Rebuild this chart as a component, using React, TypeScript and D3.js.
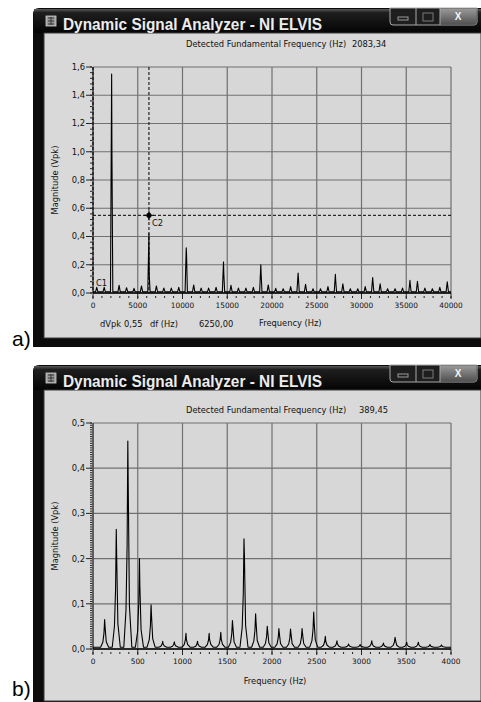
import React from "react";
import * as d3 from "d3";

// ---------- a) square-ish wave, fundamental 2083 Hz, 0..40 kHz ----------
const peakFreqA = [
  417, 1250, 2083, 2917, 3750, 4583, 5417, 6250, 7083, 7917, 8750, 9583,
  10417, 11250, 12083, 12917, 13750, 14583, 15417, 16250, 17083, 17917, 18750, 19583,
  20417, 21250, 22083, 22917, 23750, 24583, 25417, 26250, 27083, 27917, 28750, 29583,
  30417, 31250, 32083, 32917, 33750, 34583, 35417, 36250, 37083, 37917, 38750, 39583,
];
const peakMagA = [
  0.04, 0.04, 1.55, 0.055, 0.037, 0.033, 0.05, 0.42, 0.05, 0.035, 0.035, 0.04,
  0.32, 0.057, 0.035, 0.035, 0.04, 0.22, 0.055, 0.035, 0.035, 0.04, 0.2, 0.057,
  0.033, 0.03, 0.045, 0.142, 0.062, 0.03, 0.03, 0.045, 0.133, 0.065, 0.03, 0.03,
  0.045, 0.11, 0.065, 0.03, 0.03, 0.035, 0.09, 0.083, 0.035, 0.03, 0.04, 0.08,
];
// second level visible on the bigger spikes (0 = none)
const peakSideA = [
  0, 0, 1.0, 0, 0, 0, 0, 0.13, 0, 0, 0, 0,
  0.28, 0, 0, 0, 0, 0.14, 0, 0, 0, 0, 0.14, 0,
  0, 0, 0, 0.11, 0, 0, 0, 0, 0.09, 0, 0, 0,
  0, 0.08, 0, 0, 0, 0, 0.06, 0, 0, 0, 0, 0,
];
const yTicksA = [0, 0.2, 0.4, 0.6, 0.8, 1.0, 1.2, 1.4, 1.6];
const xTicksA = [0, 5000, 10000, 15000, 20000, 25000, 30000, 35000, 40000];
const fundamentalA = "2083,34";
const cursorC2 = [6250, 0.55];
const readoutA = ["dVpk", "0,55", "df (Hz)", "6250,00"];

// ---------- b) voice-like spectrum, fundamental 389 Hz, 0..4 kHz ----------
const peakFreqB = [
  130, 260, 389, 519, 649, 779, 909, 1039, 1168, 1298, 1428, 1558, 1687, 1817, 1947,
  2077, 2207, 2336, 2466, 2596, 2726, 2856, 2985, 3115, 3245, 3375, 3505, 3635, 3765, 3894,
];
const peakMagB = [
  0.065, 0.265, 0.46, 0.2, 0.098, 0.017, 0.016, 0.035, 0.017, 0.035, 0.037, 0.063, 0.244, 0.078, 0.05,
  0.045, 0.044, 0.045, 0.082, 0.028, 0.018, 0.011, 0.01, 0.018, 0.013, 0.026, 0.015, 0.015, 0.01, 0.009,
];
const peakSideB = [
  0.05, 0.205, 0.365, 0.14, 0.075, 0, 0, 0, 0, 0, 0, 0.05, 0.21, 0.06, 0.04,
  0.035, 0.035, 0.035, 0.06, 0, 0, 0, 0, 0, 0, 0.02, 0, 0, 0, 0,
];
const yTicksB = [0, 0.1, 0.2, 0.3, 0.4, 0.5];
const xTicksB = [0, 500, 1000, 1500, 2000, 2500, 3000, 3500, 4000];
const fundamentalB = "389,45";

const FONT = "DejaVu Sans";
const comma = d3.formatLocale({ decimal: ",", thousands: "", grouping: [3], currency: ["", ""] });
const fmt1 = comma.format(".1f");

function Window({ top, bottom, label, labelY }) {
  const left = 33;
  const right = 481;
  const tb = top + 25;
  return (
    <g>
      <path
        d={`M${left},${bottom} L${left},${top + 6} Q${left},${top} ${left + 6},${top} L${right},${top} L${right},${bottom} Z`}
        fill="#0c0c0c"
      />
      <rect x={left + 1} y={top + 1} width={right - left - 1} height={24} fill="url(#titleGrad)" />
      <rect x={44} y={tb} width={right - 44} height={bottom - tb - 9} fill="#d9d9d9" stroke="#3a3a3a" />
      {/* app icon */}
      <rect x={46} y={top + 8} width={10} height={10} fill="#9a9a9a" stroke="#cfcfcf" strokeWidth={0.8} />
      <path d={`M48,${top + 10}h6M48,${top + 13}h6M48,${top + 16}h6M51,${top + 9}v8`} stroke="#333" strokeWidth={1} />
      <text
        x={63}
        y={top + 22}
        fontFamily="Liberation Sans"
        fontWeight="bold"
        fontSize={16}
        fill="#ececec"
        textLength={259}
        lengthAdjust="spacingAndGlyphs"
      >
        Dynamic Signal Analyzer - NI ELVIS
      </text>
      {/* caption buttons */}
      <path
        d={`M390,${top} L390,${top + 14} Q390,${top + 17} 393,${top + 17} L474,${top + 17} Q477,${top + 17} 477,${top + 14} L477,${top} Z`}
        fill="#1e1e1e"
        stroke="#a8a8a8"
      />
      <rect x={440} y={top + 0.5} width={36.5} height={16} fill="url(#closeGrad)" />
      <line x1={416} x2={416} y1={top} y2={top + 17} stroke="#a8a8a8" />
      <line x1={440} x2={440} y1={top} y2={top + 17} stroke="#a8a8a8" />
      <rect x={398} y={top + 9} width={10} height={3} fill="none" stroke="#9a9a9a" />
      <rect x={423} y={top + 5} width={10} height={8} fill="none" stroke="#7a7a7a" />
      <text x={458} y={top + 12} textAnchor="middle" fontFamily="Liberation Sans" fontWeight="bold" fontSize={10} fill="#f4f4f4">
        X
      </text>
      <text x={12} y={labelY} fontFamily="Liberation Sans" fontSize={21} fill="#000">
        {label}
      </text>
    </g>
  );
}

function Plot({ top, bottom, xMax, yMax, xTicks, yTicks, xMinor, yMinor, freqs, mags, sides, halfW, base, shape }) {
  const left = 93;
  const right = 451;
  const x = d3.scaleLinear().domain([0, xMax]).range([left, right]);
  const y = d3.scaleLinear().domain([0, yMax]).range([bottom, top]);

  const pts = [[0, base]];
  freqs.forEach((f, i) => {
    const m = mags[i];
    const s = sides[i];
    if (shape === "spike") {
      pts.push([f - halfW, base], [f, m]);
      if (s) pts.push([f + halfW * 0.25, s]);
      pts.push([f + halfW, base]);
    } else {
      const h = m - base;
      pts.push(
        [f - halfW, base],
        [f - halfW * 0.45, base + h * 0.18],
        [f - halfW * 0.17, base + h * 0.5],
        [f, m],
        [f + halfW * 0.1, s || base + h * 0.55],
        [f + halfW * 0.4, base + h * 0.2],
        [f + halfW, base]
      );
    }
  });
  pts.push([xMax, base]);
  const line = d3.line().x((d) => x(d[0])).y((d) => y(d[1]));

  const minorX = d3.range(0, xMax + 1e-9, xMinor);
  const minorY = d3.range(0, yMax + 1e-9, yMinor);

  return (
    <g>
      <rect x={left} y={top} width={right - left} height={bottom - top} fill="#d7d7d7" />
      {yTicks.map((t) => (
        <line key={"gy" + t} x1={left} x2={right} y1={y(t)} y2={y(t)} stroke="#707070" strokeWidth={1.2} />
      ))}
      {xTicks.map((t) => (
        <line key={"gx" + t} x1={x(t)} x2={x(t)} y1={top} y2={bottom} stroke="#707070" strokeWidth={1.2} />
      ))}
      <line x1={left} x2={left} y1={top} y2={bottom} stroke="#222" />
      {minorY.map((t, i) => (
        <line key={"my" + i} x1={left - 3} x2={left - 1} y1={y(t)} y2={y(t)} stroke="#222" />
      ))}
      {yTicks.map((t) => (
        <g key={"ty" + t}>
          <line x1={left - 7} x2={left - 1} y1={y(t)} y2={y(t)} stroke="#222" />
          <text x={left - 8} y={y(t)} dy="0.35em" textAnchor="end" fontFamily={FONT} fontSize={8.4} fill="#111">
            {fmt1(t)}
          </text>
        </g>
      ))}
      {minorX.map((t, i) => (
        <line key={"mx" + i} x1={x(t)} x2={x(t)} y1={bottom + 3} y2={bottom + 5} stroke="#222" />
      ))}
      {xTicks.map((t) => (
        <g key={"tx" + t}>
          <line x1={x(t)} x2={x(t)} y1={bottom} y2={bottom + 6} stroke="#222" />
          <text x={x(t)} y={bottom + 15} textAnchor="middle" fontFamily={FONT} fontSize={7.4} fill="#111">
            {t}
          </text>
        </g>
      ))}
      <path d={line(pts)} fill="none" stroke="#000" strokeWidth={1.1} strokeLinejoin="round" />
      <line x1={left} x2={right} y1={bottom} y2={bottom} stroke="#000" strokeWidth={1.6} />
      <text
        transform={`translate(58,${(top + bottom) / 2}) rotate(-90)`}
        textAnchor="middle"
        fontFamily={FONT}
        fontSize={8.3}
        fill="#111"
      >
        Magnitude (Vpk)
      </text>
    </g>
  );
}

export default function App() {
  const xa = d3.scaleLinear().domain([0, 40000]).range([93, 451]);
  const ya = d3.scaleLinear().domain([0, 1.6]).range([293, 67]);
  const cx = xa(cursorC2[0]);
  const cy = ya(cursorC2[1]);
  return (
    <svg width={481} height={702} style={{ position: "absolute", left: 0, top: 0 }}>
      <defs>
        <linearGradient id="titleGrad" x1="0" y1="0" x2="0" y2="1">
          <stop offset="0" stopColor="#5a5a5a" />
          <stop offset="0.15" stopColor="#1e1e1e" />
          <stop offset="1" stopColor="#040404" />
        </linearGradient>
        <linearGradient id="closeGrad" x1="0" y1="0" x2="0" y2="1">
          <stop offset="0" stopColor="#9a9a9a" />
          <stop offset="1" stopColor="#505050" />
        </linearGradient>
      </defs>

      <Window top={8} bottom={347} label="a)" labelY={346} />
      <text x={186} y={47} fontFamily={FONT} fontSize={8.3} fill="#111">
        Detected Fundamental Frequency (Hz)
      </text>
      <text x={352} y={47} fontFamily={FONT} fontSize={8.3} fill="#111">
        {fundamentalA}
      </text>
      <Plot
        top={67}
        bottom={293}
        xMax={40000}
        yMax={1.6}
        xTicks={xTicksA}
        yTicks={yTicksA}
        xMinor={1000}
        yMinor={0.04}
        freqs={peakFreqA}
        mags={peakMagA}
        sides={peakSideA}
        halfW={130}
        base={0.008}
        shape="spike"
      />
      {/* cursors */}
      <line x1={xa(0)} x2={xa(0)} y1={67} y2={293} stroke="#000" strokeDasharray="3,2" />
      <line x1={cx} x2={cx} y1={67} y2={293} stroke="#000" strokeDasharray="3,2" />
      <line x1={93} x2={451} y1={cy} y2={cy} stroke="#000" strokeDasharray="3,2" />
      <circle cx={cx} cy={cy} r={2.6} fill="#000" />
      <path d={`M${cx - 5},${cy}h10M${cx},${cy - 5}v10`} stroke="#000" />
      <text x={cx + 3} y={cy + 11} fontFamily={FONT} fontSize={8.3} fill="#111">C2</text>
      <text x={96} y={286} fontFamily={FONT} fontSize={8.3} fill="#111">C1</text>
      <text x={100} y={327} fontFamily={FONT} fontSize={8.3} fill="#111">{readoutA[0]}</text>
      <text x={124} y={327} fontFamily={FONT} fontSize={8.3} fill="#111">{readoutA[1]}</text>
      <text x={150} y={327} fontFamily={FONT} fontSize={8.3} fill="#111">{readoutA[2]}</text>
      <text x={199} y={327} fontFamily={FONT} fontSize={8.3} fill="#111">{readoutA[3]}</text>
      <text x={259} y={326} fontFamily={FONT} fontSize={8.3} fill="#111">Frequency (Hz)</text>

      <Window top={365} bottom={710} label="b)" labelY={696} />
      <text x={186} y={413} fontFamily={FONT} fontSize={8.3} fill="#111">
        Detected Fundamental Frequency (Hz)
      </text>
      <text x={359} y={413} fontFamily={FONT} fontSize={8.3} fill="#111">
        {fundamentalB}
      </text>
      <Plot
        top={423}
        bottom={649}
        xMax={4000}
        yMax={0.5}
        xTicks={xTicksB}
        yTicks={yTicksB}
        xMinor={100}
        yMinor={0.005}
        freqs={peakFreqB}
        mags={peakMagB}
        sides={peakSideB}
        halfW={45}
        base={0.004}
        shape="peak"
      />
      <text x={275} y={684} textAnchor="middle" fontFamily={FONT} fontSize={8.3} fill="#111">
        Frequency (Hz)
      </text>
    </svg>
  );
}
